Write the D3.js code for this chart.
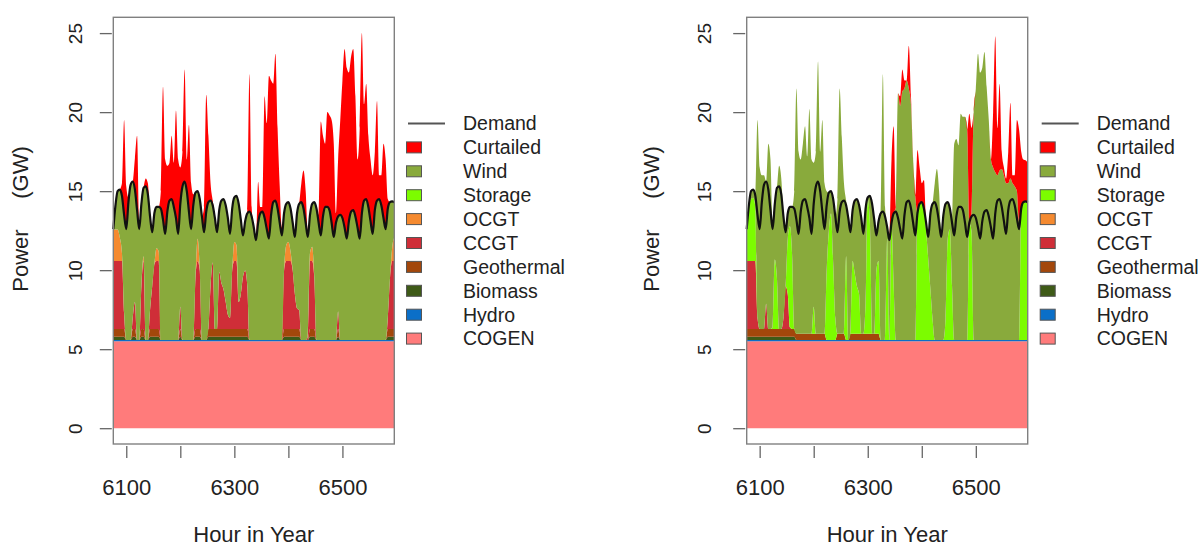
<!DOCTYPE html>
<html>
<head>
<meta charset="utf-8">
<script src="https://cdn.jsdelivr.net/npm/d3@7"></script>
<style>
  body { margin: 0; background: #fff; }
  svg { display: block; font-family: "Liberation Sans", Arial, sans-serif; }
</style>
</head>
<body>
<main></main>
<script>
(function () {

    // hours sampled every 4 h, 6076 .. 6596
    var hours = d3.range(6076, 6597, 4);

    var demand = [
        12.6,14.1,15.0,15.1,14.7,13.5, 12.6,14.3,15.4,15.6,15.1,13.8, 12.6,14.2,15.2,15.3,14.8,13.4, 12.4,13.6,14.0,14.0,13.9,13.2,
        12.3,13.7,14.4,14.5,14.0,13.3, 12.3,14.2,15.3,15.6,15.0,13.7, 12.6,14.1,14.9,15.0,14.5,13.4, 12.4,13.7,14.3,14.4,14.1,13.3,
        12.4,13.8,14.4,14.5,14.1,13.3, 12.3,13.9,14.6,14.7,14.2,13.2, 12.2,13.1,13.6,13.7,13.4,12.7, 11.9,13.0,13.6,13.7,13.3,12.6,
        12.0,13.5,14.3,14.4,13.9,13.0, 12.2,13.6,14.2,14.3,13.9,13.0, 12.1,13.6,14.2,14.3,13.9,13.0, 12.1,13.5,14.2,14.3,13.9,13.0,
        12.2,13.4,14.0,14.0,13.8,13.0, 12.1,13.0,13.4,13.5,13.3,12.7, 12.0,13.1,13.7,13.8,13.4,12.7, 12.0,13.6,14.4,14.5,14.0,13.1,
        12.3,13.8,14.4,14.5,14.1,13.3, 12.6,13.9,14.3,14.35,14.3
    ];

    var cogen = [
        5.5,5.5,5.5,5.5,5.5,5.5, 5.5,5.5,5.5,5.5,5.5,5.5, 5.5,5.5,5.5,5.5,5.5,5.5, 5.5,5.5,5.5,5.5,5.5,5.5,
        5.5,5.5,5.5,5.5,5.5,5.5, 5.5,5.5,5.5,5.5,5.5,5.5, 5.5,5.5,5.5,5.5,5.5,5.5, 5.5,5.5,5.5,5.5,5.5,5.5,
        5.5,5.5,5.5,5.5,5.5,5.5, 5.5,5.5,5.5,5.5,5.5,5.5, 5.5,5.5,5.5,5.5,5.5,5.5, 5.5,5.5,5.5,5.5,5.5,5.5,
        5.5,5.5,5.5,5.5,5.5,5.5, 5.5,5.5,5.5,5.5,5.5,5.5, 5.5,5.5,5.5,5.5,5.5,5.5, 5.5,5.5,5.5,5.5,5.5,5.5,
        5.5,5.5,5.5,5.5,5.5,5.5, 5.5,5.5,5.5,5.5,5.5,5.5, 5.5,5.5,5.5,5.5,5.5,5.5, 5.5,5.5,5.5,5.5,5.5,5.5,
        5.5,5.5,5.5,5.5,5.5,5.5, 5.5,5.5,5.5,5.5,5.5
    ];

    var hydro = [
        0.08,0.08,0.08,0.08,0.08,0.08, 0.08,0.08,0.08,0.08,0.08,0.08, 0.08,0.08,0.08,0.08,0.08,0.08, 0.08,0.08,0.08,0.08,0.08,0.08,
        0.08,0.08,0.08,0.08,0.08,0.08, 0.08,0.08,0.08,0.08,0.08,0.08, 0.08,0.08,0.08,0.08,0.08,0.08, 0.08,0.08,0.08,0.08,0.08,0.08,
        0.08,0.08,0.08,0.08,0.08,0.08, 0.08,0.08,0.08,0.08,0.08,0.08, 0.08,0.08,0.08,0.08,0.08,0.08, 0.08,0.08,0.08,0.08,0.08,0.08,
        0.08,0.08,0.08,0.08,0.08,0.08, 0.08,0.08,0.08,0.08,0.08,0.08, 0.08,0.08,0.08,0.08,0.08,0.08, 0.08,0.08,0.08,0.08,0.08,0.08,
        0.08,0.08,0.08,0.08,0.08,0.08, 0.08,0.08,0.08,0.08,0.08,0.08, 0.08,0.08,0.08,0.08,0.08,0.08, 0.08,0.08,0.08,0.08,0.08,0.08,
        0.08,0.08,0.08,0.08,0.08,0.08, 0.08,0.08,0.08,0.08,0.08
    ];

    // left scenario: no storage
    var bioLeft = [
        0.2,0.2,0.2,0.2,0.2,0.2, 0,0,0,0.2,0.2,0, 0,0.2,0.2,0,0,0.2, 0.2,0.2,0.2,0.2,0,0,
        0,0,0,0,0,0, 0,0.2,0,0,0,0, 0,0,0.2,0.2,0.2,0, 0,0,0.2,0.2,0.2,0.2,
        0.2,0.2,0.2,0.2,0.2,0.2, 0.2,0.2,0.2,0.2,0.2,0.2, 0.2,0.2,0.2,0,0,0, 0,0,0,0,0,0,
        0,0,0,0,0,0, 0,0.2,0.2,0.2,0.2,0.2, 0.2,0.2,0.2,0,0,0, 0,0.2,0.2,0.2,0,0,
        0,0,0,0,0,0, 0,0,0.2,0,0,0, 0,0,0,0,0,0, 0,0,0,0,0,0,
        0,0,0,0,0,0, 0,0.2,0.2,0.2,0.2
    ];
    var geoLeft = [
        0.5,0.5,0.5,0.5,0.5,0.5, 0,0,0,0.5,0.5,0, 0,0.5,0.5,0,0,0.5, 0.5,0.5,0.5,0.5,0,0,
        0,0,0,0,0,0, 0,0.5,0,0,0,0, 0,0,0.5,0.5,0.5,0, 0,0,0.5,0.5,0.5,0.5,
        0.5,0.5,0.5,0.5,0.5,0.5, 0.5,0.5,0.5,0.5,0.5,0.5, 0.5,0.5,0.5,0,0,0, 0,0,0,0,0,0,
        0,0,0,0,0,0, 0,0.5,0.5,0.5,0.5,0.5, 0.5,0.5,0.5,0,0,0, 0,0.5,0.5,0.5,0,0,
        0,0,0,0,0,0, 0,0,0.5,0,0,0, 0,0,0,0,0,0, 0,0,0,0,0,0,
        0,0,0,0,0,0, 0,0.5,0.5,0.5,0.5
    ];
    var ccgtLeft = [
        4.3,4.3,4.3,4.3,4.3,1.0, 0,0,0,0.7,1.7,0, 0,2.7,4.3,0,0,1.2, 2.7,4.1,4.3,4.3,0,0,
        0,0,0,0,0,0, 0,1.4,0,0,0,0, 0,0,3.2,4.3,3.7,0, 0,0,0,2.7,4.2,0,
        0,3.6,2.9,2.5,1.7,0.9, 0.7,3.7,4.3,4.3,1.7,2.2, 3.3,3.7,2.7,0,0,0, 0,0,0,0,0,0,
        0,0,0,0,0,0, 0,3.7,4.3,4.3,4.3,3.7, 2.2,1.3,1.2,0,0,0, 0.2,4.3,4.3,3.2,0,0,
        0,0,0,0,0,0, 0,0,1.1,0,0,0, 0,0,0,0,0,0, 0,0,0,0,0,0,
        0,0,0,0,0,0, 0,0.7,3.2,4.3,4.3
    ];
    var ocgtLeft = [
        2.0,2.0,2.0,1.5,0.5,0, 0,0,0,0,0,0, 0,0,0.3,0,0,0, 0,0,0.8,0.6,0,0,
        0,0,0,0,0,0, 0,0,0,0,0,0, 0,0,0,1.4,0,0, 0,0,0,0,0,0,
        0,0,0,0,0,0, 0,0,1.2,1.0,0,0, 0,0,0,0,0,0, 0,0,0,0,0,0,
        0,0,0,0,0,0, 0,0,1.0,1.2,0.6,0, 0,0,0,0,0,0, 0,0.5,0.9,0,0,0,
        0,0,0,0,0,0, 0,0,0,0,0,0, 0,0,0,0,0,0, 0,0,0,0,0,0,
        0,0,0,0,0,0, 0,0,0,0.8,1.5
    ];
    var curtailedLeft = [
        0,0,0,0,0.8,6.0, 2.7,0.3,0,0,2.0,4.7, 0.3,0,0,0.5,0.7,0, 0,0,0,0,1.1,8.4,
        4.7,2.9,2.4,4.0,2.8,6.8, 4.7,2.3,2.2,7.1,2.0,5.5, 2.9,0.7,0,0,0,0, 1.6,7.4,4.2,1.1,0.3,0,
        0,0,0,0,0,0, 0,0,0,0,0,0, 0,0,0.2,8.7,0.6,0, 0,2.6,0.4,0.3,7.7,6.7,
        10.3,8.5,7.5,9.3,5.1,2.3, 0.5,0,0,0,0,0, 0,0,0,1.2,2.4,2.0, 0.4,0,0,0,0,0.5,
        7.2,5.1,4.0,6.0,6.0,6.5, 5.9,0.6,3.6,6.0,8.7,11.3, 10.8,9.4,9.8,10.2,7.6,4.3, 7.0,11.4,6.1,7.3,4.5,3.9,
        3.7,3.7,6.3,1.5,1.9,4.7, 4.4,0.6,0,0,0
    ];

    // right scenario: with storage
    var bioRight = [
        0.2,0.2,0.2,0.2,0.2,0.2, 0.2,0.2,0.2,0.2,0.2,0.2, 0.2,0.2,0.2,0.2,0.2,0.2, 0.2,0.2,0.2,0.2,0.2,0,
        0,0,0,0,0,0, 0,0,0,0,0,0, 0,0,0,0,0,0, 0,0,0,0,0,0,
        0,0,0,0,0,0, 0,0,0,0,0,0, 0,0,0,0,0,0, 0,0,0,0,0,0,
        0,0,0,0,0,0, 0,0,0,0,0,0, 0,0,0,0,0,0, 0,0,0,0,0,0,
        0,0,0,0,0,0, 0,0,0,0,0,0, 0,0,0,0,0,0, 0,0,0,0,0,0,
        0,0,0,0,0,0, 0,0,0,0,0
    ];
    var geoRight = [
        0.5,0.5,0.5,0.5,0.5,0.5, 0.5,0.5,0.5,0.5,0.5,0.5, 0.5,0.5,0.5,0.5,0.5,0.5, 0.5,0.5,0.5,0.5,0.5,0.4,
        0.4,0.4,0.4,0.4,0.4,0.4, 0.4,0.4,0.4,0.4,0.4,0.4, 0.4,0,0,0,0,0, 0.4,0.4,0.4,0.4,0,0,
        0.4,0.4,0.4,0.4,0.4,0.4, 0.4,0.4,0.4,0.4,0.4,0.4, 0.4,0.4,0,0,0,0, 0,0,0,0,0,0,
        0,0,0,0,0,0, 0,0,0,0,0,0, 0,0,0,0,0,0, 0,0,0,0,0,0,
        0,0,0,0,0,0, 0,0,0,0,0,0, 0,0,0,0,0,0, 0,0,0,0,0,0,
        0,0,0,0,0,0, 0,0,0,0,0
    ];
    var ccgtRight = [
        4.3,4.3,4.3,4.3,4.3,0.7, 0,0,0,1.6,0,0, 0,0,0,0,0,0.7, 2.7,2.2,0.1,0,0,0,
        0,0,0,0,0,0, 0,0,0,0,0,0, 0,0,0,0,0,0, 0,0,0,0,0,0,
        0,0,0,0,0,0, 0,0,0,0,0,0, 0,0,0,0,0,0, 0,0,0,0,0,0,
        0,0,0,0,0,0, 0,0,0,0,0,0, 0,0,0,0,0,0, 0,0,0,0,0,0,
        0,0,0,0,0,0, 0,0,0,0,0,0, 0,0,0,0,0,0, 0,0,0,0,0,0,
        0,0,0,0,0,0, 0,0,0,0,0
    ];
    var storageRight = [
        2.0,3.4,3.9,4.0,3.4,0, 0,0,0,0,0,0, 0.1,4.4,3.2,0,0,0, 0,3.5,6.4,4.7,0,0,
        0,0,0,0,0,0, 0,1.7,0,0,0,0, 0,4.4,6.9,8.0,4.9,1.4, 0,0,0,0,5.3,0,
        0,4.6,3.8,3.0,2.5,0, 0,2.0,8.5,7.0,0,0, 4.0,4.6,0,0,0,6.4, 0,7.4,3.4,0,0,0,
        0,0,0,0,0,0, 0,8.0,8.7,8.7,8.3,6.9, 5.1,3.2,1.3,0,0,0, 0,0,1.4,6.4,7.0,3.4,
        0,0,0,0,0,0, 0,7.4,6.9,0,0,0, 0,0,0,0,0,0, 0,0,0,0,0,0,
        0,0,0,0,0,0, 0,8.3,8.7,8.7,8.7
    ];
    // wind above demand that goes into storage
    var surplusRight = [
        0,0,0,0,0,6.0, 3.9,1.7,0.6,0,2.9,3.2, 0.4,0,0,1.3,1.0,0, 0,0,0,0,1.1,8.3,
        5.2,3.3,3.6,4.6,3.2,6.9, 4.7,2.6,2.2,7.6,2.5,5.8, 2.9,0.9,0,0,0,0, 2.1,7.8,4.1,1.1,0.3,0,
        0,0,0,0,0,0, 0,0,0,0,0,0, 0,0,0,8.7,0.6,0, 0,0,0,0.3,7.9,7.8,
        9.3,8.0,7.7,7.1,6.6,4.0, 2.5,0,0,0,0,0, 0,0,0,1.2,2.5,2.0, 0.3,0,0,0,0,0,
        5.8,4.9,3.9,5.9,5.9,6.7, 6.8,0,0,6.5,8.2,11.0, 10.5,9.7,10.1,7.8,6.1,4.3, 4.5,2.6,1.6,1.8,2.4,2.9,
        3.2,1.7,1.4,1.0,1.2,1.7, 0.5,0,0,0,0
    ];
    var curtailedRight = [
        0,0,0,0,0,0, 0,0,0,0,0,0, 0,0,0,0,0,0, 0,0,0,0,0,0,
        0,0,0,0,0,0, 0,0,0,0,0,0, 0,0,0,0,0,0, 0,0,0,0,0,0,
        0,0,0,0,0,0, 0,0,0,0,0,0, 0,0,0,0,0,0, 0,4.0,5.5,0,0,0.6,
        1.4,0.5,0,2.7,0.5,0, 0,4.0,2.2,1.2,1.8,0, 0,0,0,0,0,0, 0,0,0,0,0,0,
        0,0,0,0,0,0, 0,6.9,5.6,0,0,0, 0,0,0,0,0,0, 3.5,8.6,3.0,5.5,1.1,0.5,
        0.3,2.0,4.8,0.5,0.7,4.5, 5.8,3.6,2.7,2.6,2.5
    ];

    var keys = ["COGEN", "Hydro", "Biomass", "Geothermal", "CCGT", "OCGT", "Storage", "Wind", "Curtailed"],
        colors = {COGEN: "#ff7b7b", Hydro: "#0b6fc8", Biomass: "#3e5a17", Geothermal: "#a3470b",
                  CCGT: "#cf2e38", OCGT: "#f58a30", Storage: "#7cfc00", Wind: "#89aa3c", Curtailed: "#ff0000"},
        xTicks = [6100, 6200, 6300, 6400, 6500],
        yTicks = [0, 5, 10, 15, 20, 25];

    var svg = d3.select("main").append("svg")
            .attr("width", 1203)
            .attr("height", 548),
        top = 17.3,
        bottom = 444,
        plotWidth = 281;

    var Panel = function (p) {
        var x = d3.scaleLinear().domain([6076, 6596]).range([p.left, p.left + plotWidth]),
            y = d3.scaleLinear().domain([-1, 26]).range([bottom, top]);

        var rows = hours.map(function (h, i) {
            var r = {hour: h, COGEN: cogen[i], Hydro: hydro[i], Biomass: p.biomass[i],
                     Geothermal: p.geothermal[i], CCGT: p.ccgt[i],
                     OCGT: p.ocgt ? p.ocgt[i] : 0, Storage: p.storage ? p.storage[i] : 0};
            var below = keys.slice(0, 7).reduce(function (s, k) { return s + r[k]; }, 0);
            // wind covers the rest of demand, plus what is stored
            r.Wind = Math.max(0, demand[i] - below) + (p.surplus ? p.surplus[i] : 0);
            r.Curtailed = p.curtailed[i];
            return r;
        });

        var area = d3.area()
            .curve(d3.curveMonotoneX)
            .x(function (d) { return x(d.data.hour); })
            .y0(function (d) { return y(d[0]); })
            .y1(function (d) { return y(d[1]); });

        var g = svg.append("g");
        g.selectAll("path.layer")
            .data(d3.stack().keys(keys)(rows))
            .join("path")
            .attr("class", "layer")
            .attr("fill", function (d) { return colors[d.key]; })
            .attr("d", area);

        g.append("path")
            .datum(demand)
            .attr("fill", "none")
            .attr("stroke", "#111")
            .attr("stroke-width", 2.2)
            .attr("d", d3.line()
                .curve(d3.curveMonotoneX)
                .x(function (d, i) { return x(hours[i]); })
                .y(function (d) { return y(d); }));

        g.append("rect")
            .attr("x", p.left)
            .attr("y", top)
            .attr("width", plotWidth)
            .attr("height", bottom - top)
            .attr("fill", "none")
            .attr("stroke", "#808080")
            .attr("stroke-width", 1.4);

        var ya = g.append("g")
            .attr("transform", "translate(" + (p.left - 1.5) + ",0)")
            .call(d3.axisLeft(y).tickValues(yTicks).tickSize(12));
        ya.attr("font-family", null).attr("font-size", 19);
        ya.select(".domain").remove();
        ya.selectAll("line").attr("stroke", "#666").attr("stroke-width", 1.3);
        ya.selectAll("text")
            .attr("x", 0).attr("y", 0).attr("dy", null)
            .attr("fill", "#222")
            .attr("text-anchor", "middle")
            .attr("transform", "translate(" + (-p.labelGap) + ",0) rotate(-90)");

        var xa = g.append("g")
            .attr("transform", "translate(0," + (bottom + 2) + ")")
            .call(d3.axisBottom(x).tickValues(xTicks).tickSize(12)
                .tickFormat(function (d) { return d % 200 === 100 ? d : ""; }));
        xa.attr("font-family", null).attr("font-size", 22);
        xa.select(".domain").remove();
        xa.selectAll("line").attr("stroke", "#666").attr("stroke-width", 1.3);
        xa.selectAll("text").attr("y", 49).attr("dy", null).attr("fill", "#222");

        g.append("text")
            .attr("x", p.left + plotWidth / 2)
            .attr("y", 542)
            .attr("text-anchor", "middle")
            .attr("font-size", 22)
            .attr("fill", "#222")
            .text("Hour in Year");

        g.append("text")
            .attr("transform", "translate(" + p.titleX + ",219) rotate(-90)")
            .attr("text-anchor", "middle")
            .attr("font-size", 22)
            .attr("fill", "#222")
            .style("white-space", "pre")
            .text("Power     (GW)");

        // legend
        var lg = g.append("g").attr("font-size", 19.5).attr("fill", "#222"),
            items = ["Demand"].concat(keys.slice().reverse()),
            rowY = function (i) { return 123.5 + i * 23.9; };
        lg.append("line")
            .attr("x1", p.legendX).attr("x2", p.legendX + 37)
            .attr("y1", rowY(0)).attr("y2", rowY(0))
            .attr("stroke", "#555").attr("stroke-width", 2);
        lg.selectAll("rect")
            .data(items.slice(1))
            .join("rect")
            .attr("x", p.legendX - 1.5)
            .attr("y", function (d, i) { return rowY(i + 1) - 5.5; })
            .attr("width", 15)
            .attr("height", 11)
            .attr("fill", function (d) { return colors[d]; })
            .attr("stroke", "#555")
            .attr("stroke-width", 1);
        lg.selectAll("text")
            .data(items)
            .join("text")
            .attr("x", p.legendX + 55)
            .attr("y", function (d, i) { return rowY(i); })
            .attr("dy", "0.35em")
            .text(function (d) { return d; });
    };

    Panel({left: 113.3, labelGap: 30, titleX: 28, legendX: 408,
           biomass: bioLeft, geothermal: geoLeft, ccgt: ccgtLeft, ocgt: ocgtLeft,
           curtailed: curtailedLeft});
    Panel({left: 746.7, labelGap: 34.7, titleX: 658.5, legendX: 1041.7,
           biomass: bioRight, geothermal: geoRight, ccgt: ccgtRight, storage: storageRight,
           surplus: surplusRight, curtailed: curtailedRight});

})();
</script>
</body>
</html>
